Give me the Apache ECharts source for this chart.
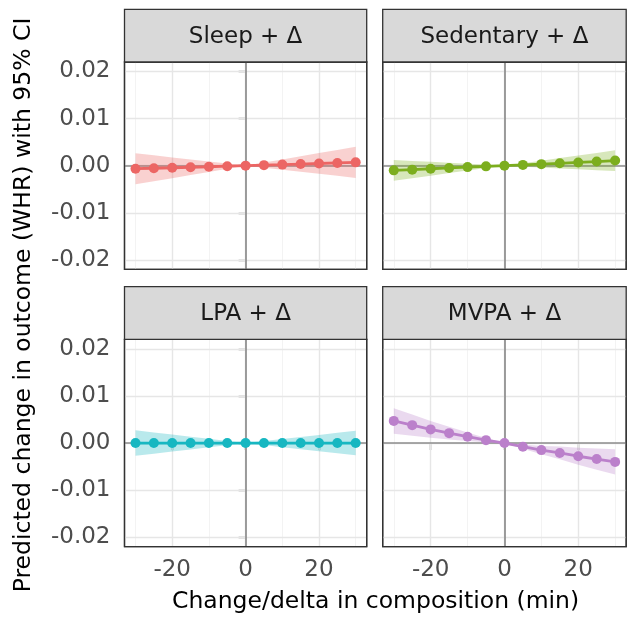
<!DOCTYPE html>
<html><head><meta charset="utf-8">
<script src="https://cdn.jsdelivr.net/npm/echarts@6/dist/echarts.min.js"></script>
<style>html,body{margin:0;padding:0;background:#fff}#c{width:627px;height:619px}</style>
</head><body><div id="c"></div>
<script>
// ---------- data ----------
const deltas = [-30, -25, -20, -15, -10, -5, 0, 5, 10, 15, 20, 25, 30];
const panelTitles = ['Sleep + Δ', 'Sedentary + Δ', 'LPA + Δ', 'MVPA + Δ'];

const sleepEst = [-0.00065, -0.00055, -0.00045, -0.00034, -0.00023, -0.00011, 0, 0.00011, 0.00022, 0.00034, 0.00046, 0.00058, 0.0007];
const sleepLo  = [-0.00395, -0.0033, -0.00265, -0.00199, -0.00133, -0.00066, 0, -0.00044, -0.00088, -0.00131, -0.00174, -0.00217, -0.0026];
const sleepHi  = [0.00265, 0.0022, 0.00175, 0.00131, 0.00087, 0.00044, 0, 0.00066, 0.00132, 0.00199, 0.00266, 0.00333, 0.004];

const sedEst = [-0.001, -0.00085, -0.00066, -0.00048, -0.00031, -0.00015, 0, 0.00016, 0.00032, 0.0005, 0.00068, 0.00087, 0.00108];
const sedLo  = [-0.0032, -0.00268, -0.00213, -0.00158, -0.00104, -0.00052, 0, -0.00021, -0.00041, -0.0006, -0.00079, -0.00096, -0.00112];
const sedHi  = [0.0012, 0.00098, 0.00081, 0.00062, 0.00042, 0.00022, 0, 0.00053, 0.00105, 0.0016, 0.00215, 0.0027, 0.00328];

const lpaEst = [0, 0, 0, 0, 0, 0, 0, 0, 0, 0, 0, 0, 0];
const lpaLo  = [-0.0027, -0.00225, -0.0018, -0.00135, -0.0009, -0.00045, 0, -0.00043, -0.00087, -0.0013, -0.00173, -0.00217, -0.0026];
const lpaHi  = [0.0027, 0.00225, 0.0018, 0.00135, 0.0009, 0.00045, 0, 0.00043, 0.00087, 0.0013, 0.00173, 0.00217, 0.0026];

const mvpaEst = [0.0047, 0.0038, 0.0029, 0.0021, 0.00135, 0.00062, 0, -0.00078, -0.0015, -0.0021, -0.0028, -0.0034, -0.004];
const mvpaLo  = [0.002, 0.00155, 0.0011, 0.00075, 0.00045, 0.00017, 0, -0.00123, -0.0024, -0.00345, -0.0046, -0.00565, -0.0067];
const mvpaHi  = [0.0074, 0.00605, 0.0047, 0.00345, 0.00225, 0.00107, 0, -0.00033, -0.0006, -0.00075, -0.001, -0.00115, -0.0013];

const xTicks = [-20, 0, 20];
const xMinor = [-30, -10, 10, 30];
const yTicks = [-0.02, -0.01, 0, 0.01, 0.02];
const yMinor = [-0.015, -0.005, 0.005, 0.015];

const xTitle = 'Change/delta in composition (min)';
const yTitle = 'Predicted change in outcome (WHR) with 95% CI';

// ---------- styling / layout ----------
const FONT = 'DejaVu Sans';
const panels = [
  {est: sleepEst, lo: sleepLo, hi: sleepHi, color: '#EC6664'},
  {est: sedEst, lo: sedLo, hi: sedHi, color: '#7CAE1E'},
  {est: lpaEst, lo: lpaLo, hi: lpaHi, color: '#17B7C1'},
  {est: mvpaEst, lo: mvpaLo, hi: mvpaHi, color: '#BB80CB'}
];
const boxes = [
  {left: 124.5, top: 62, width: 242.2, height: 207.3},
  {left: 382.7, top: 62, width: 243.5, height: 207.3},
  {left: 124.5, top: 339.4, width: 242.2, height: 207.3},
  {left: 382.7, top: 339.4, width: 243.5, height: 207.3}
];
const stripH = 52.7;

const grids = [], xAxes = [], yAxes = [], series = [], graphics = [];
panels.forEach((p, i) => {
  const b = boxes[i];
  const isBottom = i >= 2, isLeft = i % 2 === 0;
  grids.push({left: b.left, top: b.top, width: b.width, height: b.height, show: true,
    backgroundColor: '#fff', borderColor: '#333333', borderWidth: 1.3, containLabel: false});
  xAxes.push({gridIndex: i, type: 'value', min: -33, max: 33,
    axisLine: {show: false}, splitLine: {show: false},
    axisTick: {show: isBottom, customValues: xTicks, length: 7, lineStyle: {color: '#333333', width: 1.3}},
    axisLabel: {show: isBottom, customValues: xTicks, margin: 12, color: '#4D4D4D', fontSize: 23, fontFamily: FONT}
  });
  yAxes.push({gridIndex: i, type: 'value', min: -0.022, max: 0.022,
    axisLine: {show: false}, splitLine: {show: false},
    axisTick: {show: isLeft, customValues: yTicks, length: 7, lineStyle: {color: '#333333', width: 1.3}},
    axisLabel: {show: isLeft, customValues: yTicks, margin: 14, color: '#4D4D4D', fontSize: 23, fontFamily: FONT,
      formatter: v => v.toFixed(2)}
  });
  const gridData = [];
  xMinor.forEach(v => gridData.push({xAxis: v, lineStyle: {color: '#F0F0F0', width: 0.8, type: 'solid'}}));
  yMinor.forEach(v => gridData.push({yAxis: v, lineStyle: {color: '#F0F0F0', width: 0.8, type: 'solid'}}));
  xTicks.forEach(v => gridData.push({xAxis: v, lineStyle: {color: '#E6E6E6', width: 1.4, type: 'solid'}}));
  yTicks.forEach(v => gridData.push({yAxis: v, lineStyle: {color: '#E6E6E6', width: 1.4, type: 'solid'}}));
  series.push({type: 'line', xAxisIndex: i, yAxisIndex: i, data: [], z: 1, silent: true,
    markLine: {silent: true, z: 1, symbol: ['none', 'none'], label: {show: false}, animation: false, data: gridData}});
  series.push({type: 'line', xAxisIndex: i, yAxisIndex: i, data: [], z: 2, silent: true,
    markLine: {silent: true, z: 2, symbol: ['none', 'none'], label: {show: false}, animation: false,
      lineStyle: {color: '#8C8C8C', width: 1.7, type: 'solid'},
      data: [{xAxis: 0}, {yAxis: 0}]}});
  series.push({type: 'custom', xAxisIndex: i, yAxisIndex: i, z: 3, silent: true,
    data: deltas.map((d, j) => [d, p.lo[j], p.hi[j]]),
    renderItem: (params, api) => {
      if (params.dataIndex !== 0) return null;
      const pts = [];
      for (let j = 0; j < deltas.length; j++) pts.push(api.coord([deltas[j], p.hi[j]]));
      for (let j = deltas.length - 1; j >= 0; j--) pts.push(api.coord([deltas[j], p.lo[j]]));
      return {type: 'polygon', shape: {points: pts}, style: {fill: p.color, opacity: 0.3}};
    }
  });
  series.push({type: 'line', xAxisIndex: i, yAxisIndex: i, z: 4,
    data: deltas.map((d, j) => [d, p.est[j]]),
    symbol: 'circle', symbolSize: 10, showAllSymbol: true,
    itemStyle: {color: p.color}, lineStyle: {color: p.color, width: 2.8}
  });
  // panel border and facet strip
  graphics.push({type: 'rect', shape: {x: b.left, y: b.top, width: b.width, height: b.height},
    style: {fill: 'none', stroke: '#333333', lineWidth: 1.3}, z: 10, silent: true});
  graphics.push({type: 'rect', shape: {x: b.left, y: b.top - stripH, width: b.width, height: stripH},
    style: {fill: '#D9D9D9', stroke: '#333333', lineWidth: 1.3}, z: 10});
  graphics.push({type: 'text', x: b.left + b.width / 2, y: b.top - stripH / 2 + 1,
    style: {text: panelTitles[i], fill: '#1A1A1A', font: '23px "' + FONT + '"', textAlign: 'center', textVerticalAlign: 'middle'}, z: 11});
});
graphics.push({type: 'text', x: 375.6, y: 602,
  style: {text: xTitle, fill: '#000', font: '23.5px "' + FONT + '"', textAlign: 'center', textVerticalAlign: 'middle'}});
graphics.push({type: 'text', x: 24, y: 305, rotation: Math.PI / 2,
  style: {text: yTitle, fill: '#000', font: '23.5px "' + FONT + '"', textAlign: 'center', textVerticalAlign: 'middle'}});

const chart = echarts.init(document.getElementById('c'), null, {renderer: 'canvas'});
chart.setOption({
  animation: false,
  backgroundColor: '#fff',
  textStyle: {fontFamily: FONT},
  grid: grids, xAxis: xAxes, yAxis: yAxes, series: series, graphic: graphics
});
</script>
</body></html>
